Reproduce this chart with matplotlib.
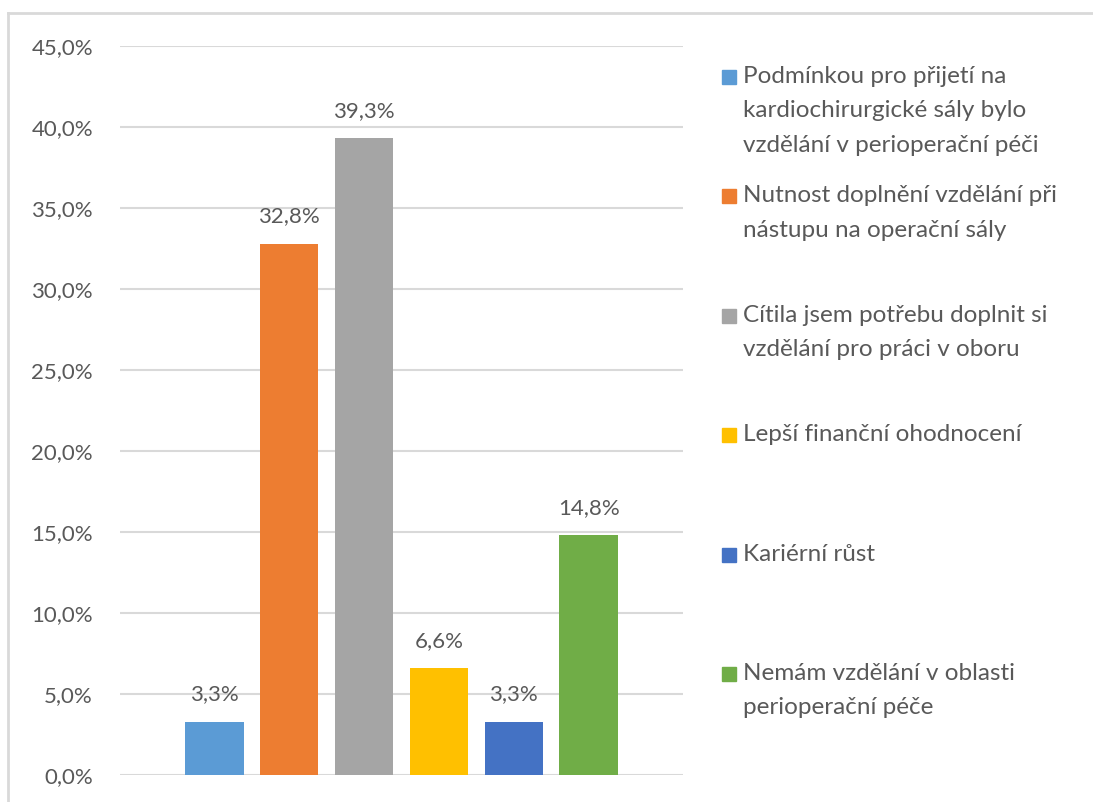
import matplotlib
matplotlib.use("Agg")
import matplotlib.pyplot as plt
from matplotlib.lines import Line2D
from matplotlib.patches import Rectangle

# Data
labels = [
    "Podmínkou pro přijetí na\nkardiochirurgické sály bylo\nvzdělání v perioperační péči",
    "Nutnost doplnění vzdělání při\nnástupu na operační sály",
    "Cítila jsem potřebu doplnit si\nvzdělání pro práci v oboru",
    "Lepší finanční ohodnocení",
    "Kariérní růst",
    "Nemám vzdělání v oblasti\nperioperační péče",
]
values = [3.3, 32.8, 39.3, 6.6, 3.3, 14.8]
colors = ["#5B9BD5", "#ED7D31", "#A5A5A5", "#FFC000", "#4472C4", "#70AD47"]
y_ticks = [0, 5, 10, 15, 20, 25, 30, 35, 40, 45]

text_color = "#595959"
grid_color = "#D9D9D9"
plt.rcParams["font.family"] = ["Lato", "DejaVu Sans"]

W, H = 1093, 802
fig = plt.figure(figsize=(W / 100, H / 100), dpi=100)
fig.patch.set_facecolor("white")

# outer chart border (top and left only visible)
fig.add_artist(Line2D([8 / W, 1.0], [1 - 13 / H, 1 - 13 / H], color=grid_color, lw=2))
fig.add_artist(Line2D([8 / W, 8 / W], [0.0, 1 - 13 / H], color=grid_color, lw=2))

ax = fig.add_axes([120 / W, 1 - 775 / H, (683 - 120) / W, (775 - 46) / H])
x = list(range(len(values)))
bars = ax.bar(x, values, width=0.78, color=colors, zorder=2)

ax.set_xlim(-1.26, 6.26)
ax.set_ylim(0, 45)
ax.set_yticks(y_ticks)
ax.set_yticklabels([f"{t:.1f}%".replace(".", ",") for t in y_ticks],
                   fontsize=16, color=text_color)
ax.set_xticks([])
ax.tick_params(axis="y", length=0, pad=19.5)
for sp in ax.spines.values():
    sp.set_visible(False)
ax.yaxis.grid(True, color=grid_color, lw=1.5, zorder=0)
ax.set_axisbelow(True)
ax.patch.set_visible(False)

# value labels
for b, v in zip(bars, values):
    ax.annotate(f"{v:.1f}%".replace(".", ","),
                (b.get_x() + b.get_width() / 2, v),
                xytext=(0, 12.5), textcoords="offset points",
                ha="center", va="bottom", fontsize=16, color=text_color)

# legend drawn by hand so the marker sits on the first line
first_y = 77
step = 119.4
for i, (lab, c) in enumerate(zip(labels, colors)):
    yc = first_y + i * step
    fig.add_artist(Rectangle((722 / W, 1 - (yc + 7) / H), 14 / W, 14 / H,
                             color=c, transform=fig.transFigure))
    fig.text(743 / W, 1 - (yc - 11) / H, lab, ha="left", va="top",
             fontsize=17.5, color=text_color, linespacing=1.78)

fig.savefig("out.png", dpi=100)
